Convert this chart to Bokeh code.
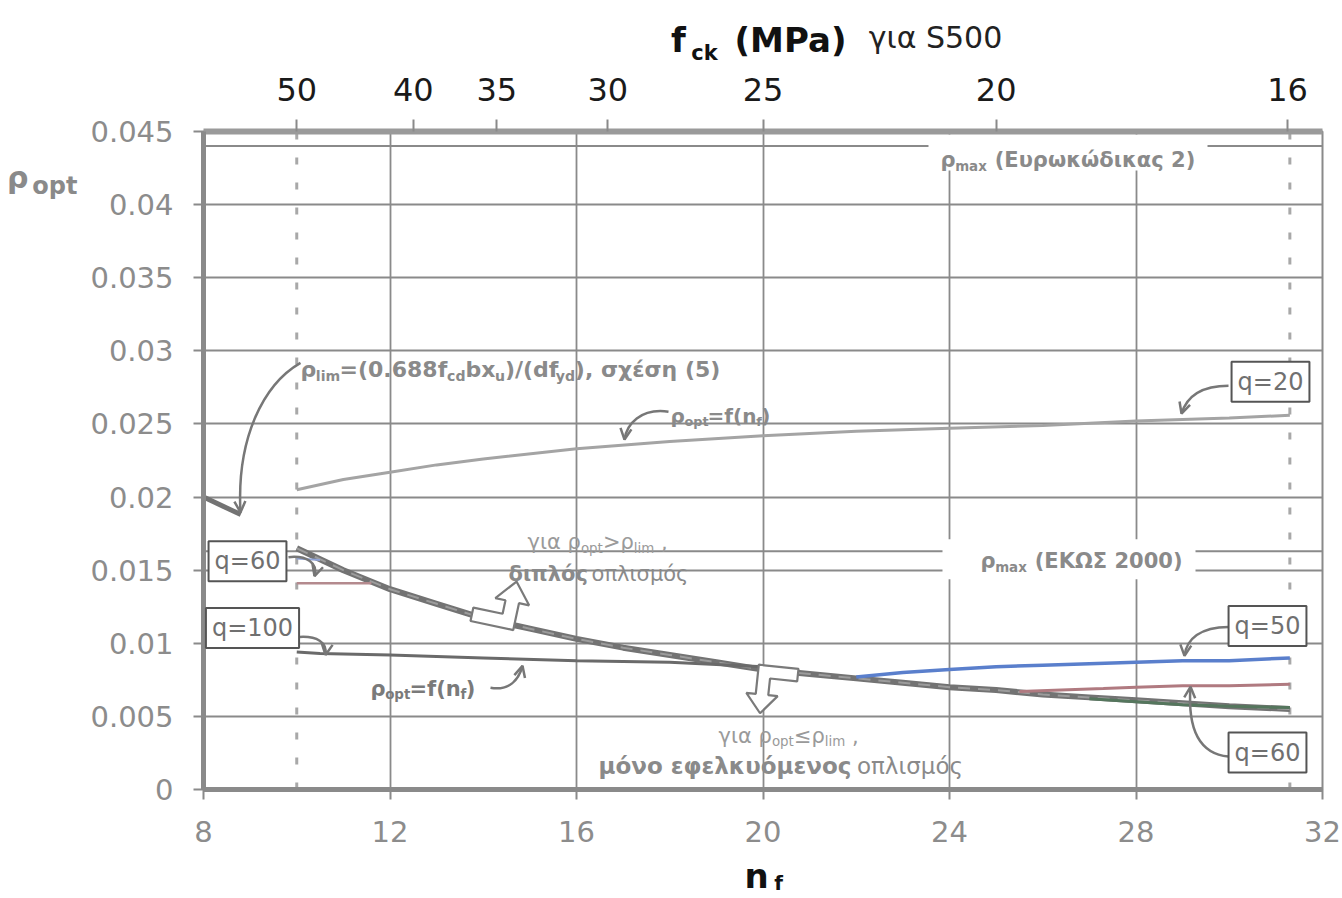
import math
from bokeh.plotting import figure
from bokeh.models import (Range1d, LinearAxis, FixedTicker, NumeralTickFormatter,
                          CustomJSTickFormatter, Label, Arrow, OpenHead)
from bokeh.embed import file_html
from bokeh.resources import INLINE

# ---------------- data ----------------
nf_ticks = [8, 12, 16, 20, 24, 28, 32]
nf_grid = [12, 16, 20, 24, 28]
rho_ticks = [0, 0.005, 0.01, 0.015, 0.02, 0.025, 0.03, 0.035, 0.04, 0.045]
rho_grid = [0.005, 0.01, 0.015, 0.02, 0.025, 0.03, 0.035, 0.04]
fck_labels = ["50", "40", "35", "30", "25", "20", "16"]
fck_nf_pos = [10, 12.5, 14.29, 16.67, 20, 25, 31.25]
nf_limits = [10, 31.3]
rho_max_ec2 = 0.044
rho_max_ekos = 0.0163

# rho_lim curve (thick)
nf_lim_a = [8, 8.8]
rho_lim_a = [0.0200, 0.0188]
nf_lim = [10, 11, 12, 13, 14, 15, 16, 17, 18, 19, 20, 21, 22, 23, 24, 25, 26, 27, 28, 29, 30, 31.3]
rho_lim = [0.0165, 0.0150, 0.0137, 0.0127, 0.0117, 0.0110, 0.0103, 0.0097, 0.0092, 0.0087,
           0.0082, 0.0079, 0.0076, 0.0073, 0.0070, 0.0068, 0.0065, 0.0063, 0.0061, 0.0059,
           0.0057, 0.0055]
# q = 20
nf_q20 = [10, 11, 12, 13, 14, 16, 18, 20, 22, 24, 26, 28, 30, 31.3]
rho_q20 = [0.0205, 0.0212, 0.0217, 0.0222, 0.0226, 0.0233, 0.0238, 0.0242, 0.0245, 0.0247,
           0.0249, 0.0252, 0.0254, 0.0256]
# q = 100
nf_q100 = [10, 10.5, 12, 14, 16, 18, 20, 20.7]
rho_q100 = [0.0094, 0.0093, 0.0092, 0.0090, 0.0088, 0.0087, 0.0084, 0.0080]
# q = 50 (blue)
nf_q50_a = [10, 10.5]
rho_q50_a = [0.0158, 0.0157]
nf_q50_b = [22, 23, 24, 25, 26, 27, 28, 29, 30, 31.3]
rho_q50_b = [0.0077, 0.0080, 0.0082, 0.0084, 0.0085, 0.0086, 0.0087, 0.0088, 0.0088, 0.0090]
# q = 60 (pink)
nf_q60_a = [10, 11, 11.6]
rho_q60_a = [0.0141, 0.0141, 0.0141]
nf_q60_b = [25.5, 27.3, 28, 29, 30, 31.3]
rho_q60_b = [0.0067, 0.0069, 0.0070, 0.0071, 0.0071, 0.0072]
# green tail
nf_green = [27, 28, 29, 30, 31.3]
rho_green = [0.0062, 0.0060, 0.0058, 0.0057, 0.0056]

# ---------------- layout ----------------
W, H = 1342, 898
L, R, T, B = 203, 20, 131, 107
X_MIN, X_MAX = 8, 32
Y_MIN, Y_MAX = 0, 0.045
FW, FH = W - L - R, H - T - B
FONT = "DejaVu Sans"
GREY = "#8a8a8a"


def dx(px):
    return X_MIN + (px - L) * (X_MAX - X_MIN) / FW


def dy(py):
    return Y_MAX - (py - T) * (Y_MAX - Y_MIN) / FH


def hgt(size):      # estimated label box height
    return 1.17 * size


def asc(size):      # estimated top-to-baseline
    return 0.84 * size


p = figure(width=W, height=H, x_range=Range1d(X_MIN, X_MAX), y_range=Range1d(Y_MIN, Y_MAX),
           output_backend="svg", toolbar_location=None,
           min_border_left=L, min_border_right=R, min_border_top=T, min_border_bottom=B)
p.background_fill_color = "white"
p.border_fill_color = "white"
p.outline_line_color = GREY
p.outline_line_width = 2

# axes
for ax in (p.xaxis[0], p.yaxis[0]):
    ax.axis_line_color = GREY
    ax.axis_line_width = 5
    ax.major_tick_line_color = GREY
    ax.major_tick_line_width = 2
    ax.major_tick_out = 10
    ax.major_tick_in = 0
    ax.minor_tick_line_color = None
    ax.major_label_text_font = FONT
    ax.major_label_text_font_size = "29px"
    ax.major_label_text_color = "#8c8c8c"
p.xaxis.ticker = FixedTicker(ticks=nf_ticks)
p.xaxis.major_label_standoff = 21
p.yaxis.ticker = FixedTicker(ticks=rho_ticks)
p.yaxis.formatter = NumeralTickFormatter(format="0.[000]")
p.yaxis.major_label_standoff = 20


def lookup_formatter(pos, lab):
    return CustomJSTickFormatter(args=dict(pos=pos, lab=lab), code="""
        let b = 0;
        for (let i = 0; i < pos.length; i++) {
            if (Math.abs(pos[i] - tick) < Math.abs(pos[b] - tick)) b = i;
        }
        return lab[b];
    """)


top = LinearAxis(ticker=FixedTicker(ticks=fck_nf_pos), formatter=lookup_formatter(fck_nf_pos, fck_labels))
top.axis_line_color = "#9a9a9a"
top.axis_line_width = 6
top.major_tick_line_color = GREY
top.major_tick_line_width = 2
top.major_tick_out = 12
top.major_tick_in = 0
top.minor_tick_line_color = None
top.major_label_text_font = FONT
top.major_label_text_font_size = "32px"
top.major_label_text_color = "#1a1a1a"
top.major_label_standoff = 19
p.add_layout(top, "above")


def text_axis(place, positions, texts, size, bold, color, standoff):
    ax = LinearAxis(ticker=FixedTicker(ticks=positions), formatter=lookup_formatter(positions, texts))
    ax.axis_line_color = None
    ax.major_tick_line_color = None
    ax.major_tick_out = 0
    ax.major_tick_in = 0
    ax.minor_tick_line_color = None
    ax.major_label_text_font = FONT
    ax.major_label_text_font_size = f"{size}px"
    ax.major_label_text_font_style = "bold" if bold else "normal"
    ax.major_label_text_color = color
    ax.major_label_standoff = int(round(standoff))
    p.add_layout(ax, place)


# --- top title: f_ck (MPa) για S500 (stacked label rows above the f_ck axis)
line = 100 - hgt(32)
text_axis("above", [dx(704)], ["ck"], 21, True, "#111111", line - 58 + 5)
line = 58 - hgt(21)
text_axis("above", [dx(678), dx(790)], ["f", "(MPa)"], 34, True, "#111111", line - 50 - 5)
line = 50 - hgt(34)
text_axis("above", [dx(935)], ["για S500"], 30, False, "#222222", line - 48)

# --- bottom title: n_f
line = 791 + 10 + 21 + hgt(29)
top_f = 893 - asc(20)
text_axis("below", [dx(778)], ["f"], 20, True, "#111111", top_f - line + 6)
line = top_f + hgt(20)
top_n = 887 - asc(34)
text_axis("below", [dx(756)], ["n"], 34, True, "#111111", top_n - line - 1)

# --- left title: rho_opt
line = 203 - 10 - 20 - 83
text_axis("left", [dy(186)], ["opt"], 24, True, GREY, line - 80)
line = 80 - 45
text_axis("left", [dy(177)], ["ρ"], 30, True, GREY, line - 34)

p.xgrid.ticker = FixedTicker(ticks=nf_grid)
p.ygrid.ticker = FixedTicker(ticks=rho_grid)
for g in (p.xgrid[0], p.ygrid[0]):
    g.grid_line_color = GREY
    g.grid_line_width = 1.8

# rho_max lines
p.segment(x0=[X_MIN], y0=[rho_max_ec2], x1=[X_MAX], y1=[rho_max_ec2], line_color=GREY, line_width=2)
p.segment(x0=[X_MIN], y0=[rho_max_ekos], x1=[X_MAX], y1=[rho_max_ekos], line_color=GREY, line_width=2)

# white boxes behind the rho_max labels
p.quad(left=[dx(928), dx(942)], right=[dx(1207), dx(1195)], top=[dy(134), dy(540)],
       bottom=[dy(170), dy(580)], fill_color="white", line_color=None)

# dashed limits
p.segment(x0=nf_limits, y0=[Y_MIN] * 2, x1=nf_limits, y1=[Y_MAX] * 2,
          line_color="#a8a8a8", line_width=3, line_dash="7 18")

# curves
p.line(nf_q20, rho_q20, line_color="#a4a4a4", line_width=3)
p.line(nf_lim_a, rho_lim_a, line_color="#737373", line_width=5)
p.line(nf_lim, rho_lim, line_color="#737373", line_width=6)
p.line(nf_lim, rho_lim, line_color="#9c9c9c", line_width=2, line_dash="12 8")
p.line(nf_q100, rho_q100, line_color="#6a6a6a", line_width=3)
p.line(nf_q50_a, rho_q50_a, line_color="#8fa3d6", line_width=2)
p.line(nf_q50_b, rho_q50_b, line_color="#5a7fcc", line_width=3.5)
p.line(nf_q60_a, rho_q60_a, line_color="#b48a8e", line_width=2.5)
p.line(nf_q60_b, rho_q60_b, line_color="#b07a80", line_width=3)
p.line(nf_green, rho_green, line_color="#55765d", line_width=3)

# ---------------- rich text helper (inside the frame) ----------------
WID = {' ': 0.318, '(': 0.39, ')': 0.39, ',': 0.318, '.': 0.318, '/': 0.337, '=': 0.838,
       '>': 0.838, '≤': 0.838, 'a': 0.613, 'b': 0.635, 'c': 0.55, 'd': 0.635, 'e': 0.615,
       'f': 0.352, 'i': 0.278, 'k': 0.579, 'l': 0.278, 'm': 0.974, 'n': 0.634, 'o': 0.612,
       'p': 0.635, 'q': 0.635, 't': 0.392, 'u': 0.634, 'x': 0.592, 'y': 0.592, 'M': 0.863,
       'P': 0.603, 'S': 0.635, 'E': 0.632, 'K': 0.656, 'Ω': 0.764, 'Σ': 0.632, 'Ε': 0.632,
       'Κ': 0.656, 'α': 0.659, 'γ': 0.592, 'δ': 0.612, 'ε': 0.541, 'έ': 0.541, 'ι': 0.338,
       'κ': 0.589, 'λ': 0.592, 'μ': 0.636, 'ν': 0.592, 'ο': 0.612, 'ό': 0.612, 'π': 0.603,
       'ρ': 0.635, 'σ': 0.634, 'ς': 0.55, 'φ': 0.77, 'χ': 0.592, 'η': 0.634, 'υ': 0.579,
       'ύ': 0.579, 'ω': 0.837, 'ώ': 0.837}
for d in "0123456789":
    WID[d] = 0.636


def tw(s, size, bold):
    return sum(WID.get(c, 0.6) for c in s) * size * (1.1 if bold else 1.0)


def rich(px, py, parts, size, color, sub_ratio=0.64, sub_drop=0.28):
    x = px
    for t, kind in parts:
        bold = "b" in kind
        sub = kind.startswith("s")
        fs = size * sub_ratio if sub else size
        yb = py + (sub_drop * size if sub else 0)
        lead = len(t) - len(t.lstrip(" "))
        x += tw(" " * lead, fs, bold)
        core = t.strip(" ")
        if core:
            p.add_layout(Label(x=dx(x), y=dy(yb), text=core, text_font=FONT,
                               text_font_size=f"{fs:.1f}px",
                               text_font_style="bold" if bold else "normal",
                               text_color=color, text_baseline="alphabetic", text_align="left"))
            x += tw(core, fs, bold)
        trail = len(t) - len(t.rstrip(" "))
        x += tw(" " * trail, fs, bold)


# annotations
rich(300, 370, [("ρ", "b"), ("lim", "sb"), ("=(0.688f", "b"), ("cd", "sb"), ("bx", "b"),
                ("u", "sb"), (")/(df", "b"), ("yd", "sb"), ("), σχέση (5)", "b")], 22, GREY)
rich(670, 416, [("ρ", "b"), ("opt", "sb"), ("=f(n", "b"), ("f", "sb"), (")", "b")], 20, GREY)
rich(370, 690, [("ρ", "b"), ("opt", "sb"), ("=f(n", "b"), ("f", "sb"), (")", "b")], 21, "#7a7a7a")
rich(527, 543, [("για ", "n"), ("ρ", "n"), ("opt", "sn"), (">", "n"), ("ρ", "n"), ("lim", "sn"), (" ,", "n")], 21, "#9a9a9a")
rich(508, 575, [("διπλός", "b"), (" οπλισμός", "n")], 21, "#8a8a8a")
rich(718, 737, [("για ", "n"), ("ρ", "n"), ("opt", "sn"), ("≤", "n"), ("ρ", "n"), ("lim", "sn"), (" ,", "n")], 21, "#9a9a9a")
rich(598, 767, [("μόνο εφελκυόμενος", "b"), (" οπλισμός", "n")], 23, "#8a8a8a")
rich(940, 160, [("ρ", "b"), ("max", "sb"), (" (Ευρωκώδικας 2)", "b")], 21, GREY)
rich(980, 562, [("ρ", "b"), ("max", "sb"), (" (ΕΚΩΣ 2000)", "b")], 21, GREY)

# curved arrows (pixel control points)
arrows = [
    ((300, 363), (262, 385), (236, 440), (240, 513)),
    ((668, 412), (640, 408), (626, 425), (624, 440)),
    ((1228, 386), (1200, 386), (1186, 398), (1181, 414)),
    ((288, 558), (306, 556), (318, 564), (314, 577)),
    ((299, 638), (316, 637), (327, 643), (325, 656)),
    ((490, 689), (508, 692), (518, 682), (522, 667)),
    ((1228, 628), (1200, 628), (1186, 640), (1184, 657)),
    ((1228, 758), (1198, 755), (1187, 730), (1190, 688)),
]
AC = "#777777"
p.bezier(x0=[dx(a[0][0]) for a in arrows], y0=[dy(a[0][1]) for a in arrows],
         x1=[dx(a[3][0]) for a in arrows], y1=[dy(a[3][1]) for a in arrows],
         cx0=[dx(a[1][0]) for a in arrows], cy0=[dy(a[1][1]) for a in arrows],
         cx1=[dx(a[2][0]) for a in arrows], cy1=[dy(a[2][1]) for a in arrows],
         line_color=AC, line_width=2.5)
for a in arrows:
    (ex, ey), (cx, cy) = a[3], a[2]
    d = math.hypot(ex - cx, ey - cy)
    sx, sy = ex - 4 * (ex - cx) / d, ey - 4 * (ey - cy) / d
    p.add_layout(Arrow(end=OpenHead(size=11, line_color=AC, line_width=2.5),
                       x_start=dx(sx), y_start=dy(sy), x_end=dx(ex), y_end=dy(ey),
                       line_color=AC, line_width=2.5))


# hollow block arrows
def block(shape, ox, oy, ang, k=1.0):
    c, s = math.cos(math.radians(ang)), math.sin(math.radians(ang))
    xs = [dx(ox + k * (u * c - v * s)) for u, v in shape]
    ys = [dy(oy + k * (u * s + v * c)) for u, v in shape]
    p.patch(xs, ys, fill_color="white", line_color="#7a7a7a", line_width=2.2)


up_shape = [(0, 0), (38, 0), (38, -24), (47, -24), (32, -42), (17, -24), (26, -24), (26, -12), (0, -12)]
down_shape = [(0, 0), (0, 12), (-26, 12), (-26, 28), (-17, 28), (-32, 46), (-47, 28), (-38, 28), (-38, 0)]
block(up_shape, 470, 622, 12, 1.15)
block(down_shape, 798, 670, 6, 1.05)

# q boxes
for txt, cx, cy in [("q=20", 1270, 382), ("q=60", 247, 562), ("q=100", 252, 629),
                    ("q=50", 1267, 627), ("q=60", 1267, 754)]:
    p.add_layout(Label(x=dx(cx), y=dy(cy), text=txt, text_font=FONT, text_font_size="24px",
                       text_color="#707070", text_align="center", text_baseline="middle",
                       background_fill_color="white", border_line_color="#555555",
                       border_line_width=2, padding=6))

open("out.html", "w").write(file_html(p, INLINE))
